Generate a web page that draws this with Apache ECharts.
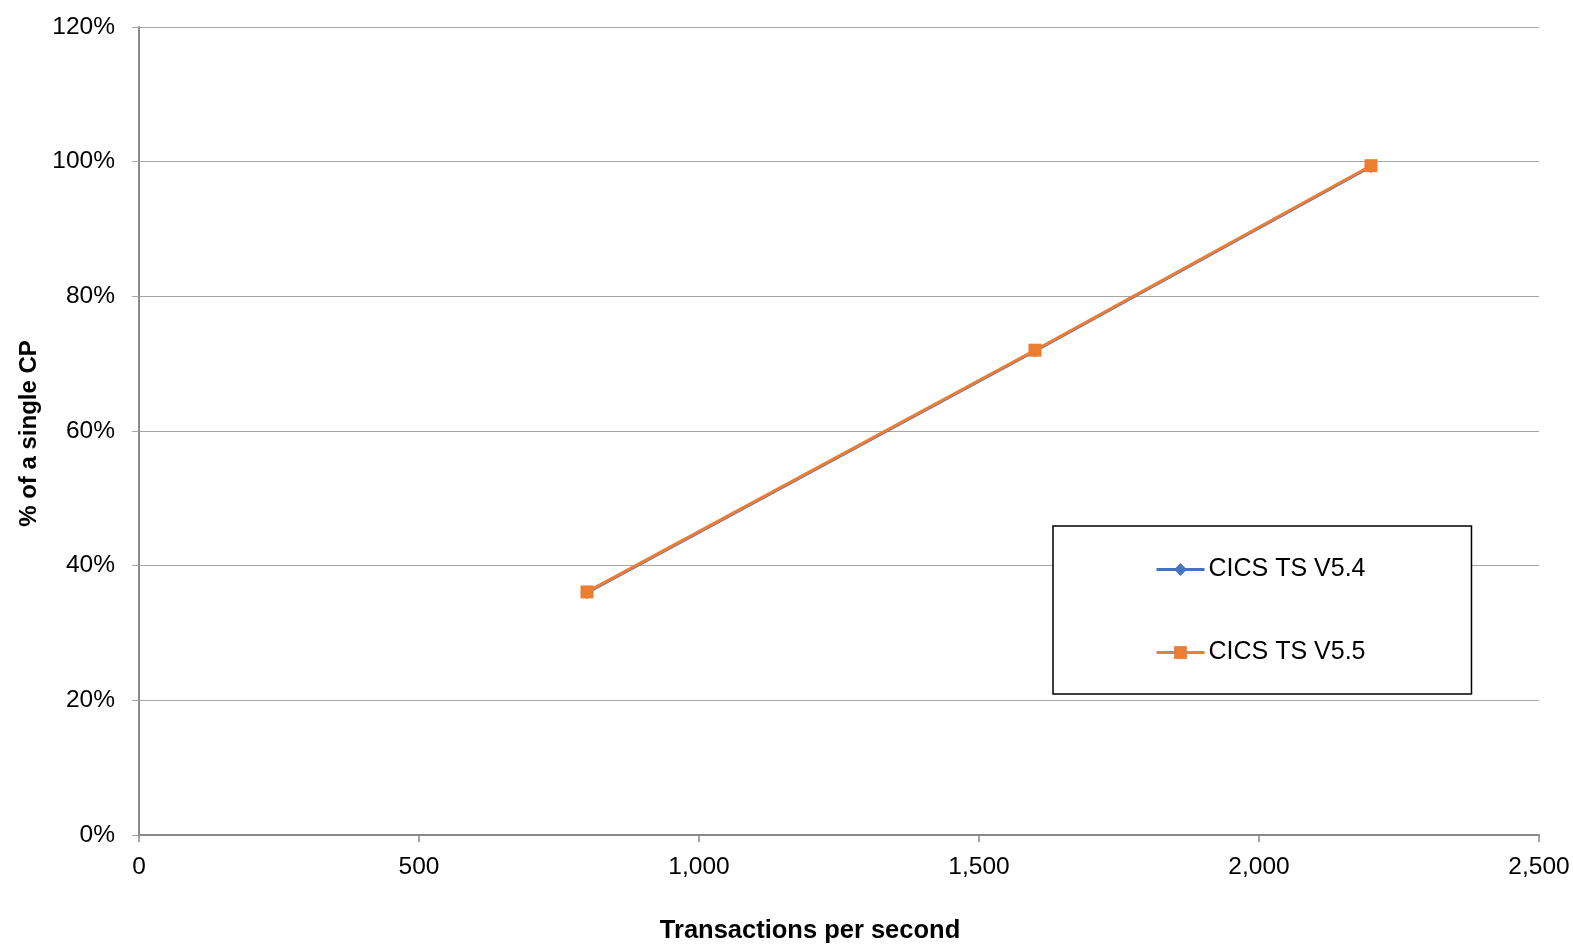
<!DOCTYPE html>
<html>
<head>
<meta charset="utf-8">
<script src="https://cdn.jsdelivr.net/npm/echarts@6/dist/echarts.min.js"></script>
<style>html,body{margin:0;padding:0;background:#fff}#c{width:1573px;height:944px}</style>
</head>
<body>
<div id="c"></div>
<script>
const xValues = [800, 1600, 2200];
const seriesNames = ['CICS TS V5.4', 'CICS TS V5.5'];
const v54 = [36.0, 71.9, 99.3];
const v55 = [36.1, 72.0, 99.4];
const xTicks = [0, 500, 1000, 1500, 2000, 2500];
const yTicks = [0, 20, 40, 60, 80, 100, 120];

const font = 'Liberation Sans, Arial, sans-serif';
const chart = echarts.init(document.getElementById('c'));
chart.setOption({
  animation: false,
  title: {
    text: 'Transactions per second', left: 805, top: 913, textAlign: 'center',
    textStyle: { fontFamily: font, fontSize: 25.5, fontWeight: 'bold', color: '#000' }
  },
  grid: { left: 139, right: 34, top: 27, bottom: 109, containLabel: false, outerBoundsMode: 'none' },
  xAxis: {
    type: 'value', min: xTicks[0], max: xTicks[xTicks.length - 1], interval: 500,
    axisLine: { show: true, lineStyle: { color: '#898989', width: 2 } },
    axisTick: { show: true, length: 7, lineStyle: { color: '#898989', width: 1.5 } },
    axisLabel: { fontFamily: font, fontSize: 24.5, color: '#000', margin: 20,
      formatter: v => v.toLocaleString('en-US') },
    splitLine: { show: false }
  },
  yAxis: {
    type: 'value', min: yTicks[0], max: yTicks[yTicks.length - 1], interval: 20,
    name: '% of a single CP', nameLocation: 'middle', nameGap: 97, nameRotate: 90,
    nameTextStyle: { fontFamily: font, fontSize: 24, fontWeight: 'bold', color: '#000', padding: [0, 5, 0, 0] },
    axisLine: { show: true, lineStyle: { color: '#898989', width: 2 } },
    axisTick: { show: true, length: 7, lineStyle: { color: '#a6a6a6', width: 1 } },
    axisLabel: { fontFamily: font, fontSize: 24.5, color: '#000', margin: 24,
      formatter: v => v + '%' },
    splitLine: { show: true, lineStyle: { color: '#a6a6a6', width: 1 } }
  },
  legend: {
    orient: 'vertical', left: 1053, top: 526,
    padding: [31, 106, 29, 102], itemGap: 58,
    itemWidth: 48, itemHeight: 16,
    borderColor: '#000', borderWidth: 1.5, backgroundColor: '#fff',
    lineStyle: { width: 3 },
    textStyle: { fontFamily: font, fontSize: 25, color: '#000', padding: [0, 0, 0, -1] },
    data: seriesNames
  },
  series: [
    { name: seriesNames[0], type: 'line', data: xValues.map((x, i) => [x, v54[i]]),
      symbol: 'diamond', symbolSize: 13, lineStyle: { color: '#4472C4', width: 3 },
      itemStyle: { color: '#4472C4' } },
    { name: seriesNames[1], type: 'line', data: xValues.map((x, i) => [x, v55[i]]),
      symbol: 'rect', symbolSize: 13, lineStyle: { color: '#ED7D31', width: 3 },
      itemStyle: { color: '#ED7D31' } }
  ]
});
</script>
</body>
</html>
